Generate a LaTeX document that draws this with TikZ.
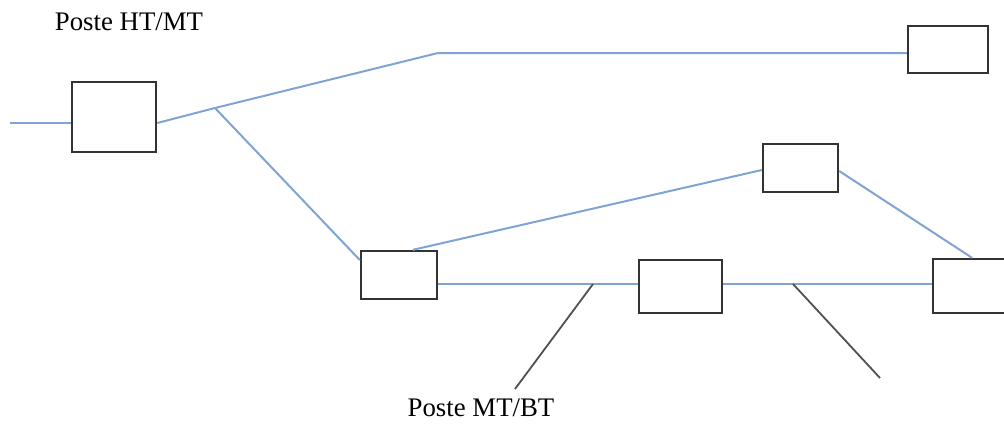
\documentclass[tikz,border=0pt]{standalone}
\usepackage{fontspec}
\setmainfont{Liberation Serif}
\definecolor{feeder}{HTML}{7FA3D3}
\definecolor{boxline}{HTML}{333333}
\definecolor{tap}{HTML}{505050}
\tikzset{
  poste/.style={draw=boxline, line width=1.2pt, fill=white, rectangle, inner sep=0pt},
  feed/.style={draw=feeder, line width=1pt},
  drop/.style={draw=tap, line width=0.9pt},
  lbl/.style={font=\fontsize{13.4pt}{16pt}\selectfont, text=black, inner sep=0pt}
}
\begin{document}
\begin{tikzpicture}[x=0.5pt, y=-0.5pt]
\useasboundingbox (0,0) rectangle (1004,423);

% substations
\node[poste, minimum width=42pt, minimum height=35pt] (A) at (114,117) {};
\node[poste, minimum width=38pt, minimum height=24pt] (B) at (399,275) {};
\node[poste, minimum width=37.5pt, minimum height=24pt] (C) at (800.5,168) {};
\node[poste, minimum width=41.5pt, minimum height=26.5pt] (D) at (680.5,286.5) {};
\node[poste, minimum width=40pt, minimum height=23.5pt] (E) at (948,49.5) {};
\node[poste, minimum width=40pt, minimum height=27pt] (F) at (973,286) {};

% junction points
\coordinate (src) at (10,123);
\coordinate (J1) at (215,108);
\coordinate (K) at (438,53);
\coordinate (T1) at (593,284);
\coordinate (T2) at (793,284);
\coordinate (L1) at (515,389);
\coordinate (L2) at (880,378);

% labels
\node[lbl] (hl) at (129,22) {Poste HT/MT};
\node[lbl] (ml) at (481,408) {Poste MT/BT};

% medium voltage lines
\begin{scope}[on background layer/.try]
\draw[feed] (src) -- (A.west |- src);
\draw[feed] (A.east |- src) -- (J1) -- (K) -- (E.west |- K);
\draw[feed] (J1) -- ([yshift=7.5pt]B.west);
\draw[feed] ([xshift=7pt]B.north) -- ([yshift=-1pt]C.west);
\draw[feed] ([yshift=-1.5pt]C.east) -- ([xshift=-0.5pt]F.north);
\draw[feed] (B.east |- T1) -- (T1) -- (D.west |- T1);
\draw[feed] (D.east |- T2) -- (T2) -- (F.west |- T2);
\end{scope}

% taps towards MT/BT substations
\draw[drop] (T1) -- (L1);
\draw[drop] (T2) -- (L2);
\end{tikzpicture}
\end{document}
